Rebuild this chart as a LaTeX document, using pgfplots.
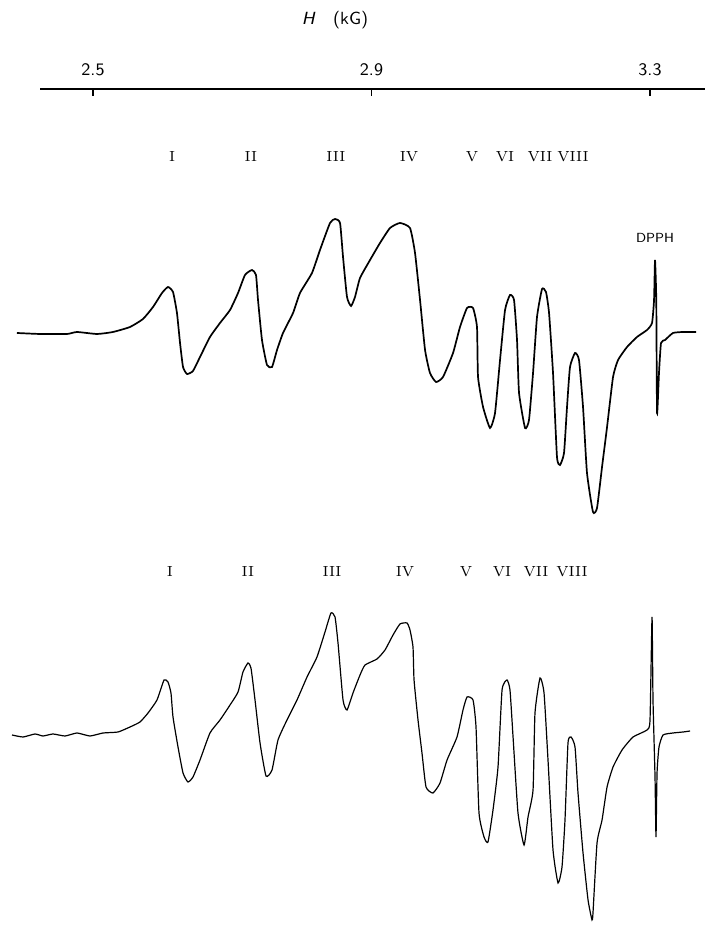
\documentclass[border=0pt]{standalone}
\usepackage{pgfplots}
\usepackage{pgfplotstable}
\pgfplotsset{compat=1.18}
\pgfplotstableread{
kG I
2.3908 0
2.4239 -1
2.4627 -1
2.4770 1
2.5057 -1
2.5287 1
2.5531 6
2.5718 14
2.5862 26
2.5991 40
2.6077 46
2.6149 41
2.6206 20
2.6250 -10
2.6293 -34
2.6350 -41
2.6436 -38
2.6537 -24
2.6680 -4
2.6824 10
2.6968 23
2.7083 40
2.7183 58
2.7284 63
2.7341 58
2.7370 33
2.7427 -7
2.7499 -32
2.7571 -34
2.7643 -17
2.7729 0
2.7873 20
2.7973 40
2.8145 60
2.8260 83
2.8404 110
2.8476 114
2.8548 110
2.8591 76
2.8648 36
2.8706 27
2.8763 36
2.8835 55
2.8979 73
2.9122 90
2.9266 105
2.9409 110
2.9553 105
2.9625 80
2.9697 33
2.9769 -17
2.9840 -40
2.9927 -49
3.0027 -44
3.0171 -20
3.0271 6
3.0372 25
3.0458 25
3.0515 6
3.0530 -44
3.0602 -74
3.0702 -95
3.0774 -80
3.0846 -27
3.0918 23
3.0989 38
3.1047 33
3.1090 -7
3.1119 -60
3.1205 -95
3.1262 -87
3.1320 -40
3.1377 16
3.1449 44
3.1506 41
3.1550 20
3.1607 -40
3.1664 -124
3.1707 -132
3.1765 -120
3.1808 -74
3.1851 -34
3.1923 -20
3.1980 -27
3.2038 -74
3.2095 -140
3.2181 -179
3.2239 -175
3.2311 -134
3.2383 -94
3.2469 -44
3.2541 -27
3.2670 -14
3.2813 -4
3.2957 3
3.3029 10
3.3058 33
3.3072 73
3.3090 33
3.3101 -80
3.3129 -40
3.3158 -10
3.3216 -7
3.3330 0
3.3474 1
3.3661 1
}\topspec
\pgfplotstableread{
kG I
2.3837 -2
2.3995 -4
2.4167 -1
2.4282 -3
2.4425 -1
2.4598 -3
2.4770 0
2.4957 -3
2.5144 0
2.5359 1
2.5531 6
2.5675 11
2.5790 20
2.5919 33
2.6020 53
2.6077 51
2.6120 40
2.6149 16
2.6221 -14
2.6293 -40
2.6364 -49
2.6436 -44
2.6537 -27
2.6680 0
2.6824 13
2.6968 28
2.7083 41
2.7154 61
2.7226 70
2.7269 65
2.7327 33
2.7399 -10
2.7485 -43
2.7571 -37
2.7657 -7
2.7786 13
2.7930 33
2.8074 56
2.8217 76
2.8332 101
2.8418 120
2.8476 116
2.8519 90
2.8591 33
2.8648 23
2.8734 40
2.8835 58
2.8907 68
2.9079 74
2.9194 83
2.9309 98
2.9409 109
2.9510 110
2.9553 103
2.9596 86
2.9611 53
2.9668 13
2.9725 -20
2.9783 -54
2.9883 -60
2.9984 -50
3.0085 -27
3.0228 -4
3.0314 23
3.0372 36
3.0458 33
3.0501 6
3.0544 -80
3.0616 -104
3.0673 -109
3.0745 -77
3.0817 -34
3.0875 43
3.0946 53
3.0989 43
3.1033 -4
3.1104 -80
3.1191 -112
3.1248 -84
3.1320 -57
3.1348 20
3.1420 55
3.1478 40
3.1535 -27
3.1607 -117
3.1679 -150
3.1736 -134
3.1779 -87
3.1822 -10
3.1866 -4
3.1923 -14
3.1966 -60
3.2038 -120
3.2110 -167
3.2167 -187
3.2181 -180
3.2239 -110
3.2311 -87
3.2383 -54
3.2469 -34
3.2598 -17
3.2756 -4
3.2957 3
3.3000 13
3.3029 116
3.3043 33
3.3072 -44
3.3086 -104
3.3101 -40
3.3129 -14
3.3187 -2
3.3330 0
3.3474 1
3.3575 2
}\botspec
\tikzset{
  scl/.style={font=\sffamily\fontsize{8.8}{10}\selectfont},
  rn/.style={font=\fontsize{7.3}{9}\selectfont},
}
\begin{document}
\begin{tikzpicture}
\begin{axis}[
  scale only axis, width=358pt, height=465pt,
  xmin=2.36643, xmax=3.39479, ymin=-930, ymax=0,
  hide axis, clip=false]
\path (rel axis cs:0,0) rectangle (rel axis cs:1,1);
% field scale
\addplot[black, line width=0.6pt] coordinates {(2.4239,-89) (3.379,-89)};
\draw[black, line width=0.6pt] (axis cs:2.5,-89) -- (axis cs:2.5,-96);
\draw[black, line width=0.6pt] (axis cs:2.9,-89) -- (axis cs:2.9,-96);
\draw[black, line width=0.6pt] (axis cs:3.3,-89) -- (axis cs:3.3,-96);
\node[scl] at (axis cs:2.5,-70) {2.5};
\node[scl] at (axis cs:2.9,-70) {2.9};
\node[scl] at (axis cs:3.3,-70) {3.3};
\node[scl] at (axis cs:2.8476,-20) {\textit{H}\quad(kG)};
% spectra
\addplot[black, line width=0.85pt, smooth, tension=0.3] table[x=kG, y expr=\thisrow{I}-333] {\topspec};
\addplot[black, line width=0.6pt, smooth, tension=0.3] table[x=kG, y expr=\thisrow{I}-733] {\botspec};
% labels
\node[rn] at (axis cs:2.6135,-157) {I};
\node[rn] at (axis cs:2.7269,-157) {II};
\node[rn] at (axis cs:2.8490,-157) {III};
\node[rn] at (axis cs:2.9539,-157) {IV};
\node[rn] at (axis cs:3.0443,-157) {V};
\node[rn] at (axis cs:3.0917,-157) {VI};
\node[rn] at (axis cs:3.1420,-157) {VII};
\node[rn] at (axis cs:3.1894,-157) {VIII};
\node[rn] at (axis cs:2.6106,-572) {I};
\node[rn] at (axis cs:2.7226,-572) {II};
\node[rn] at (axis cs:2.8433,-572) {III};
\node[rn] at (axis cs:2.9481,-572) {IV};
\node[rn] at (axis cs:3.0357,-572) {V};
\node[rn] at (axis cs:3.0874,-572) {VI};
\node[rn] at (axis cs:3.1363,-572) {VII};
\node[rn] at (axis cs:3.1880,-572) {VIII};
\node[font=\sffamily\fontsize{6.6}{8}\selectfont] at (axis cs:3.3072,-238) {DPPH};
\end{axis}
\end{tikzpicture}
\end{document}
